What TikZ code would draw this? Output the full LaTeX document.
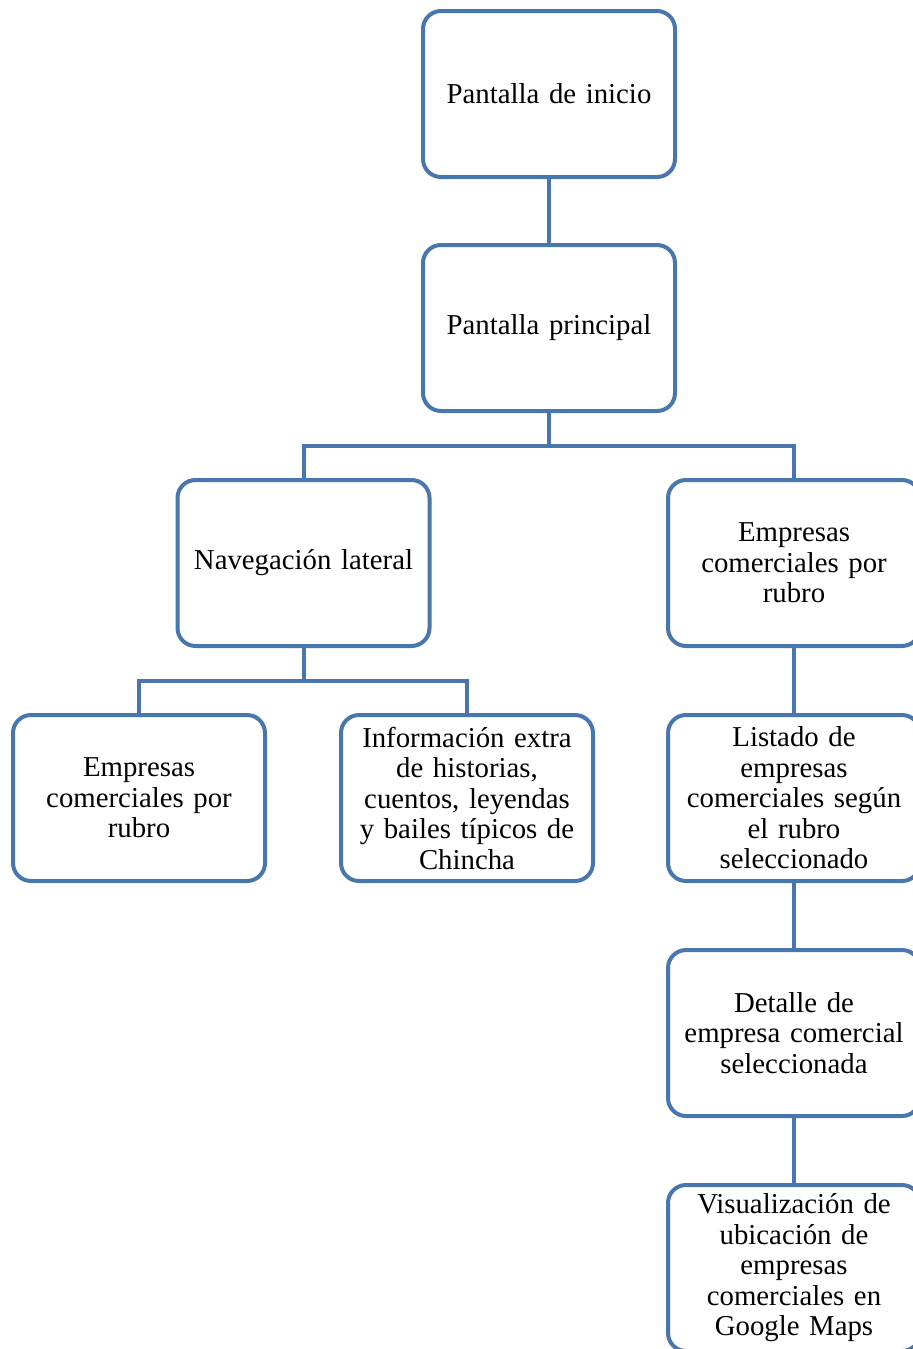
\documentclass[tikz,border=0pt]{standalone}
\usepackage{fontspec}
\setmainfont{Liberation Serif}
\definecolor{boxblue}{RGB}{74,118,174}
\tikzset{
  boxnode/.style={draw=boxblue, line width=2pt, rounded corners=9pt, fill=white,
    minimum width=126pt, minimum height=83pt, text width=122pt, align=center,
    inner sep=0pt, font=\fontsize{14.4pt}{15.25pt}\selectfont},
  conn/.style={draw=boxblue, line width=2pt}
}
\begin{document}
\begin{tikzpicture}[x=0.5pt,y=-0.5pt]
\useasboundingbox (0,0) rectangle (913,1349);
\clip (0,0) rectangle (913,1349);
\node[boxnode] (inicio) at (549,94) {Pantalla de inicio};
\node[boxnode] (principal) at (549,328) {Pantalla principal};
\node[boxnode] (nav) at (303.5,563) {Navegación lateral};
\node[boxnode] (emp) at (794,563) {Empresas\\comerciales por\\rubro};
\node[boxnode] (emp2) at (139,798) {Empresas\\comerciales por\\rubro};
\node[boxnode] (info) at (467,798) {Información extra\\de historias,\\cuentos, leyendas\\y bailes típicos de\\Chincha};
\node[boxnode] (listado) at (794,798) {Listado de\\empresas\\comerciales según\\el rubro\\seleccionado};
\node[boxnode] (detalle) at (794,1033) {Detalle de\\empresa comercial\\seleccionada};
\node[boxnode] (visual) at (794,1268) {Visualización de\\ubicación de\\empresas\\comerciales en\\Google Maps};
\coordinate (j1) at (549,446);
\coordinate (j2) at (303.5,681);
\draw[conn] (inicio) -- (principal);
\draw[conn] (principal.south) -- (j1) -| (nav.north);
\draw[conn] (j1) -| (emp.north);
\draw[conn] (nav.south) -- (j2) -| (emp2.north);
\draw[conn] (j2) -| (info.north);
\draw[conn] (emp) -- (listado);
\draw[conn] (listado) -- (detalle);
\draw[conn] (detalle) -- (visual);
\end{tikzpicture}
\end{document}
